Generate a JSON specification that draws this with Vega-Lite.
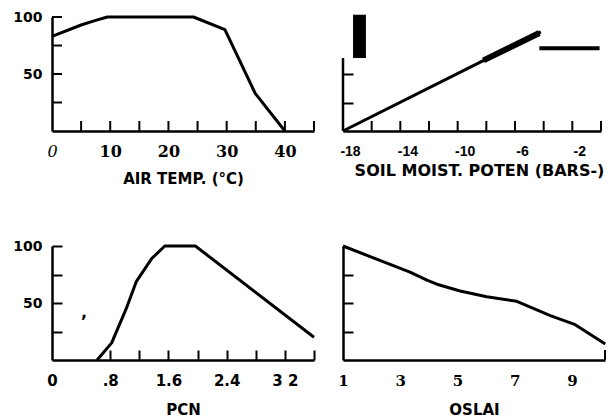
{
  "$schema": "https://vega.github.io/schema/vega-lite/v6.json",
  "background": "white",
  "padding": {"left": 12, "top": 10, "right": 0, "bottom": 0},
  "columns": 2,
  "spacing": {"row": 115, "column": 29},
  "bounds": "flush",
  "align": "each",
  "config": {
    "view": {"stroke": null, "fill": null},
    "line": {"color": "black", "strokeWidth": 3, "strokeJoin": "round", "strokeCap": "butt"},
    "rule": {"color": "black", "strokeWidth": 2},
    "tick": {"color": "black", "thickness": 2, "size": 10, "opacity": 1},
    "axis": {
      "grid": false,
      "domainColor": "black",
      "domainWidth": 2.5,
      "tickColor": "black",
      "tickWidth": 2,
      "tickSize": -10,
      "labelColor": "black",
      "labelFont": "DejaVu Sans",
      "labelFontWeight": "bold",
      "labelFontSize": 14,
      "labelFlush": false,
      "labelOverlap": false,
      "titleColor": "black",
      "titleFont": "DejaVu Sans",
      "titleFontWeight": "bold",
      "titleFontSize": 15
    },
    "axisX": {"labelBaseline": "middle", "labelPadding": 20, "titlePadding": 12},
    "axisY": {"labelPadding": 10}
  },
  "concat": [
    {
      "width": 262,
      "height": 114,
      "layer": [
        {
          "data": {"values": [
            {"temp": 0, "pct": 83},
            {"temp": 5, "pct": 93},
            {"temp": 7.5, "pct": 97},
            {"temp": 9.5, "pct": 100},
            {"temp": 24.3, "pct": 100},
            {"temp": 29.7, "pct": 89},
            {"temp": 34.9, "pct": 33},
            {"temp": 40, "pct": 0}
          ]},
          "mark": {"type": "line"},
          "encoding": {
            "x": {
              "field": "temp", "type": "quantitative",
              "scale": {"domain": [0, 45], "nice": false, "zero": false},
              "axis": {
                "title": "AIR TEMP. (°C)",
                "ticks": false,
                "values": [0, 10, 20, 30, 40],
                "labelFont": "DejaVu Serif",
                "labelFontSize": 16,
                "labelFontStyle": {"condition": {"test": "datum.value == 0", "value": "italic"}, "value": "normal"},
                "labelFontWeight": {"condition": {"test": "datum.value == 0", "value": "normal"}, "value": "bold"}
              }
            },
            "y": {
              "field": "pct", "type": "quantitative",
              "scale": {"domain": [0, 100], "nice": false},
              "axis": {"title": null, "ticks": false, "values": [50, 100]}
            }
          }
        },
        {
          "data": {"values": [
            {"temp": 5}, {"temp": 10}, {"temp": 15}, {"temp": 20},
            {"temp": 25}, {"temp": 30}, {"temp": 35}, {"temp": 40}, {"temp": 45}
          ]},
          "mark": {"type": "tick", "orient": "vertical", "yOffset": -5},
          "encoding": {
            "x": {"field": "temp", "type": "quantitative"},
            "y": {"datum": 0, "type": "quantitative"}
          }
        },
        {
          "data": {"values": [{"pct": 25}, {"pct": 50}, {"pct": 75}, {"pct": 100}]},
          "mark": {"type": "tick", "orient": "horizontal", "xOffset": 5},
          "encoding": {
            "y": {"field": "pct", "type": "quantitative"},
            "x": {"datum": 0, "type": "quantitative"}
          }
        }
      ]
    },
    {
      "width": 258,
      "height": 114,
      "layer": [
        {
          "data": {"values": [{"bars": -18, "pct": 0, "top": 64}]},
          "mark": {"type": "rule", "strokeWidth": 2.5},
          "encoding": {
            "x": {
              "field": "bars", "type": "quantitative",
              "scale": {"domain": [-18, 0], "nice": false, "zero": false},
              "axis": {
                "title": "SOIL MOIST. POTEN (BARS-)",
                "titleFontSize": 16,
                "titlePadding": 4,
                "titleX": 136,
                "ticks": false,
                "values": [-18, -14, -10, -6, -2],
                "labelExpr": "'-' + abs(datum.value)",
                "labelFont": "Liberation Sans",
                "labelOffset": 7
              }
            },
            "y": {
              "field": "pct", "type": "quantitative",
              "scale": {"domain": [0, 100], "nice": false},
              "axis": {"title": null, "labels": false, "domain": false, "values": [25, 50]}
            },
            "y2": {"field": "top"}
          }
        },
        {
          "data": {"values": [
            {"bars": -16}, {"bars": -14}, {"bars": -12}, {"bars": -10},
            {"bars": -8}, {"bars": -6}, {"bars": -4}, {"bars": -2}, {"bars": 0}
          ]},
          "mark": {"type": "tick", "orient": "vertical", "yOffset": -5},
          "encoding": {
            "x": {"field": "bars", "type": "quantitative"},
            "y": {"datum": 0, "type": "quantitative"}
          }
        },
        {
          "data": {"values": [{"bars": -17.3, "bars2": -16.4, "pct": 64, "top": 102}]},
          "mark": {"type": "rect", "color": "black", "clip": false},
          "encoding": {
            "x": {"field": "bars", "type": "quantitative"},
            "x2": {"field": "bars2"},
            "y": {"field": "pct", "type": "quantitative"},
            "y2": {"field": "top"}
          }
        },
        {
          "data": {"values": [
            {"bars": -18, "pct": 0},
            {"bars": -4.2, "pct": 87}
          ]},
          "mark": {"type": "line"},
          "encoding": {
            "x": {"field": "bars", "type": "quantitative"},
            "y": {"field": "pct", "type": "quantitative"}
          }
        },
        {
          "data": {"values": [
            {"bars": -8.2, "pct": 62},
            {"bars": -4.3, "pct": 86}
          ]},
          "mark": {"type": "line", "strokeWidth": 6},
          "encoding": {
            "x": {"field": "bars", "type": "quantitative"},
            "y": {"field": "pct", "type": "quantitative"}
          }
        },
        {
          "data": {"values": [
            {"bars": -4.3, "pct": 72.5},
            {"bars": -0.1, "pct": 72.5}
          ]},
          "mark": {"type": "line", "strokeWidth": 4},
          "encoding": {
            "x": {"field": "bars", "type": "quantitative"},
            "y": {"field": "pct", "type": "quantitative"}
          }
        }
      ]
    },
    {
      "width": 262,
      "height": 114,
      "resolve": {"axis": {"x": "independent", "y": "independent"}},
      "layer": [
        {
          "data": {"values": [
            {"pcn": 0.62, "pct": 0},
            {"pcn": 0.82, "pct": 15},
            {"pcn": 1.02, "pct": 45},
            {"pcn": 1.16, "pct": 69},
            {"pcn": 1.37, "pct": 89},
            {"pcn": 1.55, "pct": 100},
            {"pcn": 1.97, "pct": 100},
            {"pcn": 3.6, "pct": 20}
          ]},
          "mark": {"type": "line"},
          "encoding": {
            "x": {
              "field": "pcn", "type": "quantitative",
              "scale": {"domain": [0, 3.6], "nice": false, "zero": false},
              "axis": {
                "orient": "bottom",
                "title": "PCN",
                "titlePadding": 14,
                "ticks": false,
                "values": [0, 0.8, 1.6, 2.4, 3.2],
                "labelFontSize": 15,
                "labelExpr": "datum.value == 0 ? '0' : datum.value == 0.8 ? '.8' : datum.value == 1.6 ? '1.6' : datum.value == 2.4 ? '2.4' : '3 2'"
              }
            },
            "y": {
              "field": "pct", "type": "quantitative",
              "scale": {"domain": [0, 100], "nice": false},
              "axis": {"orient": "left", "title": null, "ticks": false, "values": [50, 100]}
            }
          }
        },
        {
          "data": {"values": [{"pcn": 0.44, "pct": 41}]},
          "mark": {"type": "text", "text": ",", "font": "DejaVu Sans", "fontWeight": "bold", "fontSize": 16, "color": "black"},
          "encoding": {
            "x": {
              "field": "pcn", "type": "quantitative",
              "axis": {"orient": "bottom", "title": null, "labels": false, "domain": false,
                       "values": [0.8, 1.2, 1.6, 2, 2.4, 2.8, 3.2, 3.6]}
            },
            "y": {
              "field": "pct", "type": "quantitative",
              "axis": {"orient": "left", "title": null, "labels": false, "domain": false,
                       "values": [25, 50, 75, 100]}
            }
          }
        }
      ]
    },
    {
      "width": 262,
      "height": 114,
      "resolve": {"axis": {"x": "independent", "y": "independent"}},
      "layer": [
        {
          "data": {"values": [
            {"oslai": 1, "pct": 100},
            {"oslai": 3.34, "pct": 77},
            {"oslai": 3.93, "pct": 70},
            {"oslai": 4.28, "pct": 66.5},
            {"oslai": 5.09, "pct": 60.5},
            {"oslai": 6.02, "pct": 55.5},
            {"oslai": 7.07, "pct": 51.5},
            {"oslai": 8.24, "pct": 39},
            {"oslai": 9.11, "pct": 31},
            {"oslai": 10.16, "pct": 14}
          ]},
          "mark": {"type": "line", "clip": false},
          "encoding": {
            "x": {
              "field": "oslai", "type": "quantitative",
              "scale": {"domain": [1, 10.15], "nice": false, "zero": false},
              "axis": {
                "orient": "bottom",
                "title": "OSLAI",
                "titlePadding": 14,
                "ticks": false,
                "values": [1, 3, 5, 7, 9],
                "labelFont": "DejaVu Serif",
                "labelFontSize": 15
              }
            },
            "y": {
              "field": "pct", "type": "quantitative",
              "scale": {"domain": [0, 100], "nice": false},
              "axis": {"orient": "left", "title": null, "labels": false, "ticks": false}
            }
          }
        },
        {
          "data": {"values": [{"oslai": 10.15}]},
          "mark": {"type": "tick", "orient": "vertical", "yOffset": -5},
          "encoding": {
            "x": {"field": "oslai", "type": "quantitative", "axis": null},
            "y": {"datum": 0, "type": "quantitative",
                  "axis": {"orient": "left", "title": null, "labels": false, "domain": false, "values": [25, 50, 75]}}
          }
        }
      ]
    }
  ]
}
